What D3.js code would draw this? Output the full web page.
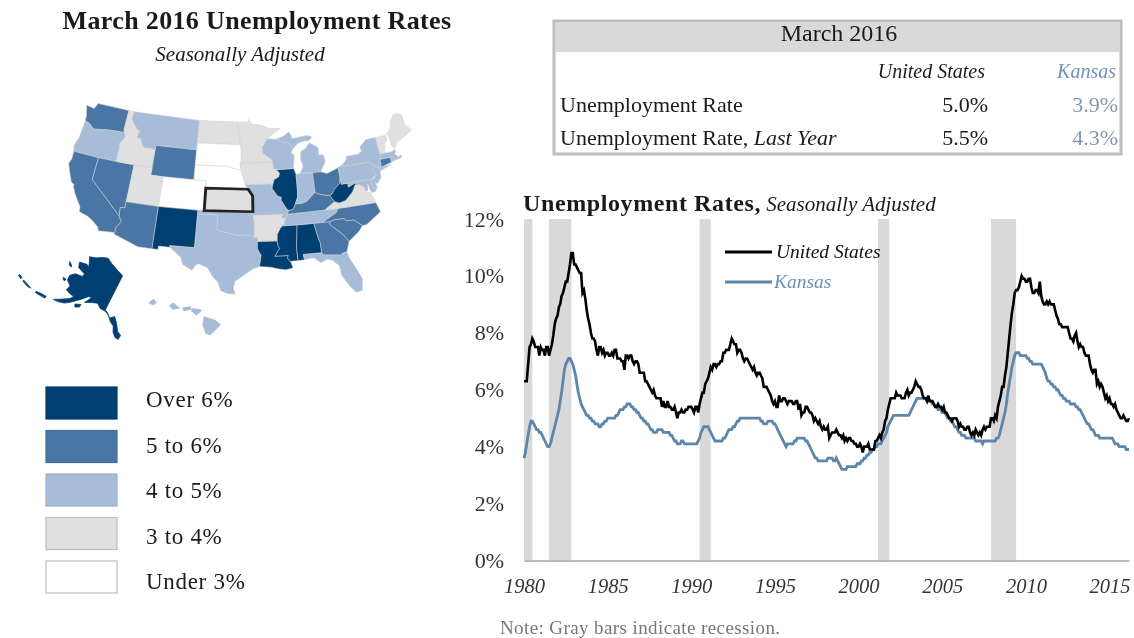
<!DOCTYPE html>
<html>
<head>
<meta charset="utf-8">
<script src="https://cdn.jsdelivr.net/npm/d3@7"></script>
<style>
  html, body { margin: 0; padding: 0; background: #fff; }
  svg { display: block; filter: blur(0.45px); }
  text { font-family: "Liberation Serif", serif; fill: #1a1a1a; }
</style>
</head>
<body>
<script>
// Monthly unemployment rates from Jan 1980 to Mar 2016, one row per year
var usRate = [
    6.3,6.3,6.3,6.9,7.5,7.6,7.8,7.7,7.5,7.5,7.5,7.2,
    7.5,7.4,7.4,7.2,7.5,7.5,7.2,7.4,7.6,7.9,8.3,8.5,
    8.6,8.9,9.0,9.3,9.4,9.6,9.8,9.8,10.1,10.4,10.8,10.8,
    10.4,10.4,10.3,10.2,10.1,10.1,9.4,9.5,9.2,8.8,8.5,8.3,
    8.0,7.8,7.8,7.7,7.4,7.2,7.5,7.5,7.3,7.4,7.2,7.3,
    7.3,7.2,7.2,7.3,7.2,7.4,7.4,7.1,7.1,7.1,7.0,7.0,
    6.7,7.2,7.2,7.1,7.2,7.2,7.0,6.9,7.0,7.0,6.9,6.6,
    6.6,6.6,6.6,6.3,6.3,6.2,6.1,6.0,5.9,6.0,5.8,5.7,
    5.7,5.7,5.7,5.4,5.6,5.4,5.4,5.6,5.4,5.4,5.3,5.3,
    5.4,5.2,5.0,5.2,5.2,5.3,5.2,5.2,5.3,5.3,5.4,5.4,
    5.4,5.3,5.2,5.4,5.4,5.2,5.5,5.7,5.9,5.9,6.2,6.3,
    6.4,6.6,6.8,6.7,6.9,6.9,6.8,6.9,6.9,7.0,7.0,7.3,
    7.3,7.4,7.4,7.4,7.6,7.8,7.7,7.6,7.6,7.3,7.4,7.4,
    7.3,7.1,7.0,7.1,7.1,7.0,6.9,6.8,6.7,6.8,6.6,6.5,
    6.6,6.6,6.5,6.4,6.1,6.1,6.1,6.0,5.9,5.8,5.6,5.5,
    5.6,5.4,5.4,5.8,5.6,5.6,5.7,5.7,5.6,5.5,5.6,5.6,
    5.6,5.5,5.5,5.6,5.6,5.3,5.5,5.1,5.2,5.2,5.4,5.4,
    5.3,5.2,5.2,5.1,4.9,5.0,4.9,4.8,4.9,4.7,4.6,4.7,
    4.6,4.6,4.7,4.3,4.4,4.5,4.5,4.5,4.6,4.5,4.4,4.4,
    4.3,4.4,4.2,4.3,4.2,4.3,4.3,4.2,4.2,4.1,4.1,4.0,
    4.0,4.1,4.0,3.8,4.0,4.0,4.0,4.1,3.9,3.9,3.9,3.9,
    4.2,4.2,4.3,4.4,4.3,4.5,4.6,4.9,5.0,5.3,5.5,5.7,
    5.7,5.7,5.7,5.9,5.8,5.8,5.8,5.7,5.7,5.7,5.9,6.0,
    5.8,5.9,5.9,6.0,6.1,6.3,6.2,6.1,6.1,6.0,5.8,5.7,
    5.7,5.6,5.8,5.6,5.6,5.6,5.5,5.4,5.4,5.5,5.4,5.4,
    5.3,5.4,5.2,5.2,5.1,5.0,5.0,4.9,5.0,5.0,5.0,4.9,
    4.7,4.8,4.7,4.7,4.6,4.6,4.7,4.7,4.5,4.4,4.5,4.4,
    4.6,4.5,4.4,4.5,4.4,4.6,4.7,4.6,4.7,4.7,4.7,5.0,
    5.0,4.9,5.1,5.0,5.4,5.6,5.8,6.1,6.1,6.5,6.8,7.3,
    7.8,8.3,8.7,9.0,9.4,9.5,9.5,9.6,9.8,10.0,9.9,9.9,
    9.8,9.8,9.9,9.9,9.6,9.4,9.4,9.5,9.5,9.4,9.8,9.3,
    9.1,9.0,9.0,9.1,9.0,9.1,9.0,9.0,9.0,8.8,8.6,8.5,
    8.3,8.3,8.2,8.2,8.2,8.2,8.2,8.0,7.8,7.8,7.7,7.9,
    8.0,7.7,7.5,7.6,7.5,7.5,7.3,7.2,7.2,7.2,6.9,6.7,
    6.6,6.7,6.7,6.2,6.3,6.1,6.2,6.1,5.9,5.7,5.8,5.6,
    5.7,5.5,5.5,5.4,5.5,5.3,5.2,5.1,5.0,5.0,5.1,5.0,
    4.9,4.9,5.0
];

var kansasRate = [
    3.6,3.8,4.1,4.4,4.7,4.9,4.9,4.8,4.7,4.6,4.6,4.5,
    4.5,4.4,4.3,4.2,4.1,4.0,4.0,4.1,4.3,4.5,4.7,4.9,
    5.1,5.3,5.6,5.9,6.3,6.7,6.9,7.0,7.1,7.1,7.0,6.9,
    6.7,6.5,6.2,5.9,5.7,5.5,5.4,5.3,5.2,5.1,5.1,5.0,
    5.0,4.9,4.9,4.8,4.8,4.8,4.7,4.7,4.8,4.8,4.9,4.9,
    5.0,5.0,5.0,5.0,5.0,5.0,5.1,5.1,5.2,5.3,5.3,5.3,
    5.4,5.4,5.5,5.5,5.5,5.4,5.4,5.3,5.3,5.2,5.2,5.1,
    5.0,5.0,4.9,4.9,4.8,4.8,4.7,4.6,4.6,4.5,4.5,4.5,
    4.6,4.6,4.6,4.6,4.5,4.5,4.5,4.5,4.5,4.4,4.4,4.3,
    4.2,4.2,4.1,4.1,4.1,4.2,4.2,4.1,4.1,4.1,4.1,4.1,
    4.1,4.1,4.1,4.1,4.1,4.2,4.3,4.5,4.6,4.7,4.7,4.7,
    4.7,4.6,4.5,4.4,4.3,4.2,4.2,4.2,4.2,4.2,4.2,4.3,
    4.3,4.4,4.5,4.6,4.6,4.6,4.7,4.7,4.8,4.9,4.9,5.0,
    5.0,5.0,5.0,5.0,5.0,5.0,5.0,5.0,5.0,5.0,5.0,5.0,
    5.0,5.0,4.9,4.9,4.8,4.8,4.8,4.9,4.9,4.9,4.9,4.8,
    4.8,4.7,4.6,4.5,4.4,4.3,4.2,4.1,4.0,4.1,4.1,4.1,
    4.1,4.1,4.2,4.2,4.3,4.3,4.3,4.3,4.3,4.3,4.2,4.2,
    4.1,4.0,3.9,3.8,3.7,3.6,3.6,3.5,3.5,3.5,3.5,3.5,
    3.5,3.5,3.6,3.6,3.6,3.6,3.5,3.5,3.6,3.5,3.4,3.3,
    3.2,3.2,3.2,3.2,3.3,3.3,3.3,3.3,3.3,3.3,3.3,3.4,
    3.4,3.4,3.5,3.5,3.6,3.6,3.7,3.7,3.8,3.8,3.9,3.9,
    4.0,4.0,4.1,4.1,4.1,4.2,4.3,4.4,4.5,4.7,4.8,4.9,
    5.0,5.1,5.1,5.1,5.1,5.1,5.1,5.1,5.1,5.1,5.1,5.1,
    5.1,5.2,5.3,5.4,5.5,5.6,5.7,5.7,5.7,5.7,5.7,5.7,
    5.7,5.7,5.7,5.6,5.6,5.5,5.5,5.4,5.4,5.3,5.3,5.3,
    5.2,5.2,5.2,5.1,5.0,5.0,4.9,4.9,4.8,4.7,4.7,4.6,
    4.5,4.5,4.4,4.4,4.4,4.3,4.3,4.3,4.3,4.3,4.3,4.3,
    4.2,4.2,4.2,4.2,4.2,4.1,4.2,4.2,4.2,4.2,4.2,4.2,
    4.2,4.2,4.2,4.3,4.3,4.4,4.6,4.8,5.0,5.2,5.5,5.9,
    6.2,6.5,6.8,7.0,7.2,7.3,7.3,7.3,7.2,7.2,7.2,7.2,
    7.2,7.1,7.1,7.0,7.0,6.9,6.9,6.9,6.9,6.9,6.9,6.9,
    6.8,6.7,6.6,6.4,6.3,6.3,6.2,6.2,6.1,6.1,6.0,6.0,
    5.9,5.8,5.8,5.7,5.7,5.6,5.6,5.6,5.5,5.5,5.5,5.5,
    5.4,5.4,5.3,5.3,5.2,5.1,5.0,4.9,4.8,4.8,4.7,4.6,
    4.6,4.5,4.4,4.4,4.4,4.3,4.3,4.3,4.3,4.3,4.3,4.3,
    4.3,4.3,4.3,4.2,4.1,4.1,4.1,4.0,4.0,4.0,4.0,4.0,
    3.9,3.9,3.9
];

// Recessions as [start year, start month, end year, end month]
var recessions = [
    [1980, 0, 1980, 6],
    [1981, 6, 1982, 10],
    [1990, 6, 1991, 2],
    [2001, 2, 2001, 10],
    [2007, 11, 2009, 5]
];
var yTicks = [0, 2, 4, 6, 8, 10, 12];
var xTickYears = [1980, 1985, 1990, 1995, 2000, 2005, 2010, 2015];

// Chart legend, with the rate level each key sits at
var legendSeries = ["United States", "Kansas"];
var legendLevel = [10.84, 9.79];

// Table at the top right
var tableTitle = "March 2016";
var tableColumns = ["United States", "Kansas"];
var tableRows = ["Unemployment Rate", "Unemployment Rate,"];
var tableUs = ["5.0%", "5.5%"];
var tableKansas = ["3.9%", "4.3%"];

// Map legend, darkest first
var legendLabels = ["Over 6%", "5 to 6%", "4 to 5%", "3 to 4%", "Under 3%"];
var legendColors = ["#003f72", "#4a76a5", "#a7bcd9", "#e0e0e0", "#ffffff"];

// Which legend class each state falls in
var stateClasses = [
    ["AK", "NM", "IL", "WV", "LA", "MS", "AL"],
    ["WA", "WY", "CA", "NV", "AZ", "OH", "KY", "GA", "SC", "NC", "CT"],
    ["OR", "MT", "WI", "MI", "MIU", "IN", "MO", "OK", "TX", "TN", "FL", "PA", "NY", "HI", "MA", "RI", "NJ", "MD", "DE"],
    ["ID", "UT", "ND", "MN", "IA", "KS", "AR", "VA", "ME", "VT"],
    ["SD", "NE", "CO", "NH"]
];

// Simplified state outlines in lon/lat
var lower48 = {
    WA: [[-124.7,48.4],[-123.2,48.2],[-122.8,49],[-117.03,49],[-117.04,46.4],[-116.92,45.99],[-119,45.93],[-119.6,45.9],[-121.2,45.65],[-122.3,45.55],[-122.8,45.9],[-123.4,46.2],[-124,46.27],[-124.1,47]],
    OR: [[-124,46.27],[-123.4,46.2],[-122.8,45.9],[-122.3,45.55],[-121.2,45.65],[-119.6,45.9],[-119,45.93],[-116.92,45.99],[-116.5,45.5],[-117.2,44.4],[-117.03,43.8],[-117.03,42],[-120,42],[-124.2,42],[-124.5,42.8],[-124.1,44]],
    CA: [[-124.2,42],[-120,42],[-120,39],[-114.63,35],[-114.13,34.3],[-114.72,33.4],[-114.72,32.72],[-117.12,32.53],[-117.3,33],[-118.4,33.75],[-119.2,34.15],[-120.5,34.45],[-120.65,35.15],[-121.9,36.6],[-122.5,37.5],[-122.5,37.8],[-123,38],[-123.8,39.3],[-124.35,40.3],[-124.1,41]],
    NV: [[-120,42],[-117.03,42],[-114.04,42],[-114.04,37],[-114.04,36.2],[-114.73,36.1],[-114.63,35],[-120,39]],
    ID: [[-117.03,49],[-116.05,49],[-116.05,48],[-115.7,47.5],[-114.7,46.7],[-114.35,46.65],[-114.5,45.6],[-113.9,45.6],[-113.45,44.95],[-113,44.45],[-112,44.55],[-111.05,44.47],[-111.05,42],[-114.04,42],[-117.03,42],[-117.03,43.8],[-117.2,44.4],[-116.5,45.5],[-116.92,45.99],[-117.04,46.4]],
    MT: [[-116.05,49],[-104.05,49],[-104.05,45.94],[-104.05,45],[-111.05,45],[-111.05,44.47],[-112,44.55],[-113,44.45],[-113.45,44.95],[-113.9,45.6],[-114.5,45.6],[-114.35,46.65],[-114.7,46.7],[-115.7,47.5],[-116.05,48]],
    WY: [[-111.05,45],[-104.05,45],[-104.05,43],[-104.05,41],[-109.05,41],[-111.05,41],[-111.05,42],[-111.05,44.47]],
    UT: [[-114.04,42],[-111.05,42],[-111.05,41],[-109.05,41],[-109.05,37],[-114.04,37]],
    CO: [[-109.05,41],[-104.05,41],[-102.05,41],[-102.05,40],[-102.05,37],[-103,37],[-109.05,37]],
    AZ: [[-114.04,37],[-109.05,37],[-109.05,31.33],[-111.07,31.33],[-114.81,32.5],[-114.72,32.72],[-114.72,33.4],[-114.13,34.3],[-114.63,35],[-114.73,36.1],[-114.04,36.2]],
    NM: [[-109.05,37],[-103,37],[-103,36.5],[-103.05,32],[-106.62,32],[-106.53,31.78],[-108.2,31.78],[-108.2,31.33],[-109.05,31.33]],
    ND: [[-104.05,49],[-97.23,49],[-96.56,45.94],[-104.05,45.94]],
    SD: [[-104.05,45.94],[-96.56,45.94],[-96.45,45.3],[-96.45,43.5],[-96.6,43.5],[-96.45,42.5],[-97.9,42.8],[-98.5,43],[-104.05,43]],
    NE: [[-104.05,43],[-98.5,43],[-97.9,42.8],[-96.45,42.5],[-96.1,41.7],[-95.9,41],[-95.31,40],[-102.05,40],[-102.05,41],[-104.05,41]],
    KS: [[-102.05,40],[-95.31,40],[-94.62,39.1],[-94.62,37],[-102.05,37]],
    OK: [[-103,37],[-94.62,37],[-94.43,35.4],[-94.48,33.64],[-95.5,33.9],[-97,33.85],[-98,34.1],[-99.2,34.3],[-100,34.56],[-100,36.5],[-103,36.5]],
    TX: [[-103,36.5],[-100,36.5],[-100,34.56],[-99.2,34.3],[-98,34.1],[-97,33.85],[-95.5,33.9],[-94.48,33.64],[-94.04,33.55],[-94.04,33],[-94.04,32],[-93.55,31.2],[-93.7,30.3],[-93.85,29.7],[-94.7,29.4],[-95.9,28.6],[-97.2,27.7],[-97.4,26.8],[-97.15,25.97],[-98.2,26.05],[-99.1,26.4],[-99.5,27.5],[-100.3,28.3],[-101,29.4],[-102.3,29.88],[-102.7,29.7],[-103.15,28.98],[-104.5,29.65],[-104.9,30.6],[-106.53,31.78],[-106.62,32],[-103.05,32]],
    MN: [[-97.23,49],[-95.15,49],[-95.15,49.38],[-94.6,48.7],[-93,48.6],[-91.4,48.05],[-89.5,48],[-92,46.7],[-92.3,46.1],[-92.85,45.6],[-92.75,44.75],[-91.25,43.85],[-91.22,43.5],[-96.45,43.5],[-96.45,45.3],[-96.56,45.94]],
    IA: [[-96.6,43.5],[-91.22,43.5],[-91.1,42.7],[-90.64,42.5],[-90.15,42],[-90.35,41.5],[-91.1,41.2],[-91.42,40.38],[-91.73,40.61],[-95.77,40.59],[-95.9,41],[-96.1,41.7],[-96.45,42.5]],
    MO: [[-95.77,40.59],[-91.73,40.61],[-91.42,40.38],[-91.5,40],[-90.7,39],[-90.15,38.8],[-90.2,38.4],[-89.5,37.3],[-89.15,37],[-89.4,36.5],[-89.7,36],[-90.37,36],[-90.15,36.5],[-94.62,36.5],[-94.62,37],[-94.62,39.1],[-95.31,40]],
    AR: [[-94.62,36.5],[-90.15,36.5],[-90.37,36],[-89.7,36],[-90.1,35.1],[-90.6,34.7],[-91.1,33.9],[-91.17,33],[-94.04,33],[-94.04,33.55],[-94.48,33.64],[-94.43,35.4]],
    LA: [[-94.04,33],[-91.17,33],[-91.1,32.4],[-90.9,32],[-91.6,31],[-89.73,31],[-89.85,30.65],[-89.55,30.2],[-89.4,30],[-89.2,29.3],[-90.2,29.1],[-91.3,29.3],[-92.3,29.55],[-93.85,29.7],[-93.7,30.3],[-93.55,31.2],[-94.04,32]],
    MS: [[-90.3,35],[-88.2,35],[-88.1,34.9],[-88.47,31.9],[-88.4,30.25],[-89.55,30.2],[-89.85,30.65],[-89.73,31],[-91.6,31],[-90.9,32],[-91.1,32.4],[-91.17,33],[-91.1,33.9],[-90.6,34.7]],
    AL: [[-88.2,35],[-85.6,35],[-85.18,32.87],[-85,32.3],[-85,31],[-87.6,31],[-87.5,30.3],[-88,30.25],[-88.4,30.25],[-88.47,31.9],[-88.1,34.9]],
    TN: [[-89.4,36.5],[-83.68,36.6],[-81.68,36.59],[-82,36.1],[-84.3,35],[-85.6,35],[-88.2,35],[-90.3,35],[-90.1,35.1],[-89.7,36]],
    KY: [[-89.4,36.5],[-89.15,37],[-88.5,37.1],[-88.05,37.8],[-87.1,37.8],[-86.3,38],[-85.4,38.7],[-84.8,39.1],[-84.2,38.8],[-83.7,38.65],[-82.6,38.45],[-82,37.55],[-83.68,36.6]],
    IL: [[-90.64,42.5],[-87.8,42.5],[-87.5,41.7],[-87.53,39.35],[-87.6,38.7],[-88.05,37.8],[-88.5,37.1],[-89.15,37],[-89.5,37.3],[-90.2,38.4],[-90.15,38.8],[-90.7,39],[-91.5,40],[-91.42,40.38],[-91.1,41.2],[-90.35,41.5],[-90.15,42]],
    IN: [[-87.5,41.7],[-86.8,41.76],[-84.8,41.76],[-84.8,39.1],[-85.4,38.7],[-86.3,38],[-87.1,37.8],[-88.05,37.8],[-87.6,38.7],[-87.53,39.35]],
    OH: [[-84.8,41.76],[-83.45,41.72],[-82.5,41.4],[-81.2,41.75],[-80.52,41.98],[-80.52,40.64],[-80.7,39.9],[-81.7,39.2],[-82.2,38.6],[-82.6,38.45],[-83.7,38.65],[-84.2,38.8],[-84.8,39.1]],
    MI: [[-86.8,41.76],[-84.8,41.76],[-83.45,41.72],[-83.1,42.2],[-82.45,43],[-82.6,43.9],[-83.4,44],[-83.3,45],[-84.7,45.75],[-85.5,45],[-86.3,44.7],[-86.5,43.7],[-86.2,42.7]],
    MIU: [[-90.4,46.55],[-89,46.95],[-88,47.45],[-87.5,46.5],[-85,46.75],[-84.1,46.5],[-84.7,46],[-85.5,46.05],[-86.7,45.8],[-87.6,45.1],[-88.1,45.9],[-89,46.1]],
    WI: [[-92.3,46.1],[-92,46.7],[-90.4,46.55],[-89,46.1],[-88.1,45.9],[-87.6,45.1],[-88,44.55],[-87.5,44.3],[-87.8,42.5],[-90.64,42.5],[-91.1,42.7],[-91.22,43.5],[-91.25,43.85],[-92.75,44.75],[-92.85,45.6]],
    GA: [[-85.6,35],[-84.3,35],[-83.1,35],[-83.35,34.7],[-81.5,33],[-80.9,32.05],[-81.45,30.72],[-82.2,30.57],[-82.05,30.36],[-84.86,30.7],[-85,31],[-85,32.3],[-85.18,32.87]],
    FL: [[-87.5,30.3],[-87.6,31],[-85,31],[-84.86,30.7],[-82.05,30.36],[-82.2,30.57],[-81.45,30.72],[-81.2,29.7],[-80.5,28.2],[-80,26.8],[-80.3,25.3],[-81.1,25.15],[-81.8,26],[-82.7,27.7],[-82.8,29],[-83.7,29.9],[-84.3,30.05],[-85.3,29.7],[-86.2,30.45]],
    SC: [[-83.35,34.7],[-83.1,35],[-82.4,35.2],[-81,35.15],[-80.8,34.82],[-79.67,34.8],[-78.55,33.86],[-79.2,33.2],[-80.9,32.05],[-81.5,33]],
    NC: [[-84.3,35],[-82,36.1],[-81.68,36.59],[-75.85,36.55],[-75.5,35.25],[-76.5,34.7],[-77.9,33.9],[-78.55,33.86],[-79.67,34.8],[-80.8,34.82],[-81,35.15],[-82.4,35.2],[-83.1,35]],
    VA: [[-83.68,36.6],[-81.68,36.59],[-75.85,36.55],[-76,37],[-76.3,37.9],[-77,38.3],[-77.05,38.8],[-77.5,39.1],[-77.75,39.3],[-78.35,39.4],[-79,38.5],[-80.3,37.5],[-81.3,37.3],[-82,37.55]],
    WV: [[-82.6,38.45],[-82.2,38.6],[-81.7,39.2],[-80.7,39.9],[-80.52,40.64],[-80.52,39.72],[-79.48,39.72],[-79.48,39.2],[-78.35,39.6],[-77.75,39.3],[-78.35,39.4],[-79,38.5],[-80.3,37.5],[-81.3,37.3],[-82,37.55]],
    PA: [[-80.52,41.98],[-79.76,42.27],[-79.76,42],[-75.35,42],[-74.7,41.36],[-75.1,40.9],[-74.75,40.2],[-75.4,39.8],[-75.8,39.72],[-79.48,39.72],[-80.52,39.72],[-80.52,40.64]],
    NY: [[-79.76,42.27],[-78.9,42.9],[-79,43.27],[-76.8,43.3],[-76.2,43.6],[-76.3,44.2],[-75,45],[-73.35,45],[-73.3,43.6],[-73.27,42.75],[-73.5,42.05],[-73.65,41],[-72,41.05],[-73.9,40.55],[-74,41],[-74.7,41.36],[-75.35,42],[-79.76,42]],
    NJ: [[-74.7,41.36],[-74,41],[-74,40.4],[-74.1,39.7],[-74.9,38.95],[-75.5,39.5],[-74.75,40.2],[-75.1,40.9]],
    DE: [[-75.8,39.72],[-75.4,39.8],[-75.05,38.45],[-75.7,38.46]],
    MD: [[-79.48,39.72],[-75.8,39.72],[-75.7,38.46],[-75.05,38.45],[-75.6,37.95],[-76.2,38],[-76.4,39.2],[-76.6,38.3],[-77,38.3],[-77.05,38.8],[-77.5,39.1],[-77.75,39.3],[-78.35,39.6],[-79.48,39.2]],
    CT: [[-73.5,42.05],[-71.8,42.02],[-71.85,41.32],[-73.65,41]],
    RI: [[-71.8,42.02],[-71.38,42.02],[-71.2,41.5],[-71.85,41.32]],
    MA: [[-73.5,42.05],[-73.27,42.75],[-72.46,42.73],[-71.3,42.7],[-70.8,42.87],[-70.6,42.65],[-71,42.3],[-70.5,41.8],[-70,42.05],[-70,41.65],[-71.2,41.5],[-71.38,42.02],[-71.8,42.02]],
    VT: [[-73.35,45],[-71.5,45],[-71.5,44.4],[-72.05,44],[-72.45,43],[-72.46,42.73],[-73.27,42.75],[-73.3,43.6]],
    NH: [[-71.5,45],[-71.08,45.3],[-70.98,43.4],[-70.7,43.05],[-70.8,42.87],[-71.3,42.7],[-72.46,42.73],[-72.45,43],[-72.05,44],[-71.5,44.4]],
    ME: [[-71.08,45.3],[-70.4,45.8],[-70.25,46.2],[-70,46.7],[-69.2,47.45],[-68.3,47.35],[-67.8,47.07],[-67.8,45.7],[-67,44.85],[-68.5,44.25],[-70,43.75],[-70.7,43.05],[-70.98,43.4]]
};

var alaskaParts = [
    [[-141,69.65],[-141,60.3],[-139.5,59.9],[-137.5,58.9],[-135.5,59.75],[-133.5,58.4],[-131.8,56.6],[-130,55.9],[-130.5,54.8],[-132,55],[-133.5,56],[-134.5,57.5],[-136.5,58.2],[-138.5,59.5],[-141,60],[-143.5,60],[-146,60.8],[-148.5,60.2],[-151.5,59.2],[-150,61.1],[-151.5,61],[-153.5,59.5],[-156.5,57.3],[-158.5,56],[-161,55.2],[-163,54.8],[-161,56],[-158,57.7],[-157.3,58.8],[-159,58.6],[-162,58.7],[-162,60],[-165,60.5],[-166,61.7],[-164.5,63],[-161,63.7],[-161,64.5],[-166,64.6],[-168,65.6],[-164,66.6],[-162,66.3],[-163.5,67.2],[-166.5,68.3],[-163,69.3],[-160,70.5],[-156.5,71.3],[-152,70.8],[-146,70.2]],
    [[-154.6,57.5],[-152.3,58.3],[-152.2,57.6],[-153.8,56.9]],
    [[-167.4,60.2],[-166,60.4],[-165.6,59.9],[-166.5,59.8]],
    [[-171.7,63.8],[-170,63.7],[-168.8,63.3],[-170.3,63.2]],
    [[-170.2,52.9],[-168,53.6],[-166,54],[-165.8,53.5],[-168,53],[-170,52.6]],
    [[-176.8,52],[-174,52.3],[-172.5,52.3],[-174,51.9],[-176.5,51.7]],
    [[-179.5,51.9],[-178,52],[-177.8,51.6],[-179.2,51.5]]
];

var hawaiiParts = [
    [[-156.06,19.73],[-155.85,20.27],[-155.1,19.9],[-154.8,19.5],[-155.65,18.95],[-155.95,19.1]],
    [[-156.7,20.9],[-156.6,21.03],[-156.25,20.93],[-156,20.8],[-156.4,20.57]],
    [[-157.3,21.22],[-156.75,21.2],[-156.75,21.05],[-157.3,21.05]],
    [[-158.28,21.57],[-158,21.7],[-157.65,21.3],[-158.1,21.3]],
    [[-159.78,22.05],[-159.45,22.23],[-159.3,22],[-159.55,21.88]]
];

// d3.geoPath fills the outside of a polygon wound the wrong way round, so fix that here
function toFeature(rings) {
    var polygons = rings.map(function (ring) {
        var closed = ring.concat([ring[0]]);
        var poly = { type: "Polygon", coordinates: [closed] };
        if (d3.geoArea(poly) > 2 * Math.PI) {
            poly.coordinates = [closed.slice().reverse()];
        }
        return poly.coordinates;
    });
    return { type: "MultiPolygon", coordinates: polygons };
}

function classColor(code) {
    for (var i = 0; i < stateClasses.length; i++) {
        if (stateClasses[i].indexOf(code) >= 0) return legendColors[i];
    }
    return "#ffffff";
}

var svg = d3.select("body").append("svg")
    .attr("width", 1134)
    .attr("height", 638);

// ---------- left side: title, map, legend ----------
svg.append("text")
    .attr("x", 257).attr("y", 29)
    .attr("text-anchor", "middle")
    .attr("font-size", 26)
    .attr("letter-spacing", 0.35)
    .attr("font-weight", "bold")
    .text("March 2016 Unemployment Rates");

svg.append("text")
    .attr("x", 240).attr("y", 61)
    .attr("text-anchor", "middle")
    .attr("font-size", 21)
    .attr("font-style", "italic")
    .text("Seasonally Adjusted");

// The reference map is a little wider than a plain Albers, hence the x stretch on the group
var conusProjection = d3.geoAlbers().scale(427).translate([0, 0]);
var conusPath = d3.geoPath().projection(conusProjection);
// Alaska and Hawaii are turned as insets in the reference, .angle handles that
var alaskaPath = d3.geoPath().projection(
    d3.geoConicEqualArea().rotate([154, 0]).center([0, 63]).parallels([55, 65])
        .angle(-38).scale(235).translate([90, 287])
);
var hawaiiPath = d3.geoPath().projection(
    d3.geoConicEqualArea().rotate([157, 0]).center([0, 20.5]).parallels([8, 18])
        .angle(11).scale(790).translate([189, 317])
);

var mapStroke = "#cfcfcf";
var conus = svg.append("g")
    .attr("transform", "translate(240,199) scale(1.113,1)");

conus.selectAll("path.state")
    .data(Object.keys(lower48))
    .enter()
    .append("path")
    .attr("class", "state")
    .attr("d", function (d) { return conusPath(toFeature([lower48[d]])); })
    .attr("fill", function (d) { return classColor(d); })
    .attr("stroke", mapStroke)
    .attr("stroke-width", 0.5);

// Kansas goes on top with its heavy outline
conus.append("path")
    .attr("d", conusPath(toFeature([lower48.KS])))
    .attr("fill", classColor("KS"))
    .attr("stroke", "#222222")
    .attr("stroke-width", 2.6);

svg.append("path")
    .attr("d", alaskaPath(toFeature(alaskaParts)))
    .attr("fill", classColor("AK"))
    .attr("stroke", classColor("AK"))
    .attr("stroke-width", 0.8);

svg.append("path")
    .attr("d", hawaiiPath(toFeature(hawaiiParts)))
    .attr("fill", classColor("HI"))
    .attr("stroke", classColor("HI"))
    .attr("stroke-width", 1.4);

var legendY = d3.scalePoint().domain(legendLabels).range([387, 561]);
var legendTextY = d3.scalePoint().domain(legendLabels).range([407, 589]);

svg.selectAll("rect.legend")
    .data(legendLabels)
    .enter()
    .append("rect")
    .attr("class", "legend")
    .attr("x", 46)
    .attr("y", function (d) { return legendY(d); })
    .attr("width", 71).attr("height", 32)
    .attr("fill", function (d, i) { return legendColors[i]; })
    .attr("stroke", function (d, i) { return i > 2 ? "#bdbdbd" : d3.color(legendColors[i]).darker(0.2); })
    .attr("stroke-width", 1.2);

svg.selectAll("text.legend")
    .data(legendLabels)
    .enter()
    .append("text")
    .attr("class", "legend")
    .attr("x", 146)
    .attr("y", function (d) { return legendTextY(d); })
    .attr("font-size", 23)
    .attr("letter-spacing", 0.7)
    .text(function (d) { return d; });

// ---------- top right: table ----------
var table = svg.append("g");

table.append("rect")
    .attr("x", 554).attr("y", 21)
    .attr("width", 567).attr("height", 133)
    .attr("fill", "#ffffff")
    .attr("stroke", "#bdbdbd")
    .attr("stroke-width", 3);

table.append("rect")
    .attr("x", 555).attr("y", 22)
    .attr("width", 565).attr("height", 30)
    .attr("fill", "#d9d9d9");

table.append("text")
    .attr("x", 839).attr("y", 41)
    .attr("text-anchor", "middle")
    .attr("font-size", 24)
    .text(tableTitle);

var kansasText = "#7592b5";
var columnRight = [985, 1116];
var rowY = [112, 145];

table.selectAll("text.column")
    .data(tableColumns)
    .enter()
    .append("text")
    .attr("class", "column")
    .attr("x", function (d, i) { return columnRight[i]; })
    .attr("y", 78)
    .attr("text-anchor", "end")
    .attr("font-size", 20)
    .attr("font-style", "italic")
    .style("fill", function (d, i) { return i === 1 ? kansasText : "#1a1a1a"; })
    .text(function (d) { return d; });

var rowLabels = table.selectAll("text.row")
    .data(tableRows)
    .enter()
    .append("text")
    .attr("class", "row")
    .attr("x", 560)
    .attr("y", function (d, i) { return rowY[i]; })
    .attr("font-size", 22)
    .text(function (d) { return d; });

// second row carries an italic tail
rowLabels.filter(function (d, i) { return i === 1; })
    .append("tspan")
    .attr("font-style", "italic")
    .text(" Last Year");

tableUs.forEach(function (v, i) {
    table.append("text")
        .attr("x", 988).attr("y", rowY[i])
        .attr("text-anchor", "end")
        .attr("font-size", 22)
        .text(v);
});
tableKansas.forEach(function (v, i) {
    table.append("text")
        .attr("x", 1118).attr("y", rowY[i])
        .attr("text-anchor", "end")
        .attr("font-size", 22)
        .style("fill", "#8097b3")
        .text(v);
});

// ---------- line chart ----------
var months = usRate.map(function (d, i) { return new Date(1980, i, 1); });

var x = d3.scaleTime()
    .domain([months[0], months[months.length - 1]])
    .range([524, 1129]);

var y = d3.scaleLinear()
    .domain([0, 12])
    .range([560.5, 219]);

var chartTitle = svg.append("text")
    .attr("x", 523).attr("y", 211);
chartTitle.append("tspan")
    .attr("font-size", 24)
    .attr("letter-spacing", 0.6)
    .attr("font-weight", "bold")
    .text("Unemployment Rates,");
chartTitle.append("tspan")
    .attr("font-size", 21)
    .attr("font-style", "italic")
    .text(" Seasonally Adjusted");

svg.selectAll("rect.recession")
    .data(recessions)
    .enter()
    .append("rect")
    .attr("class", "recession")
    .attr("x", function (d) { return x(new Date(d[0], d[1], 1)); })
    .attr("width", function (d) { return x(new Date(d[2], d[3], 1)) - x(new Date(d[0], d[1], 1)); })
    .attr("y", y(12))
    .attr("height", y(0) - y(12))
    .attr("fill", "#d9d9d9");

var yAxis = svg.append("g")
    .attr("transform", "translate(508,0)")
    .call(d3.axisLeft(y).tickValues(yTicks).tickSize(0).tickFormat(function (d) { return d + "%"; }));
yAxis.select(".domain").remove();
yAxis.selectAll("text")
    .attr("font-family", "Liberation Serif")
    .attr("font-size", 22)
    .attr("x", -4)
    .style("fill", "#333333");

var xAxis = svg.append("g")
    .attr("transform", "translate(0," + y(0) + ")")
    .call(d3.axisBottom(x)
        .tickValues(xTickYears.map(function (d) { return new Date(d, 0, 1); }))
        .tickSize(0)
        .tickFormat(d3.timeFormat("%Y")));
xAxis.select(".domain")
    .attr("stroke", "#a6a6a6")
    .attr("stroke-width", 1.5);
xAxis.selectAll("text")
    .attr("font-family", "Liberation Serif")
    .attr("font-size", 20.5)
    .attr("font-style", "italic")
    .attr("y", 18)
    .style("fill", "#333333");

var line = d3.line()
    .x(function (d, i) { return x(months[i]); })
    .y(function (d) { return y(d); });

var kansasColor = "#5d86a8";

svg.append("path")
    .datum(kansasRate)
    .attr("d", line)
    .attr("fill", "none")
    .attr("stroke", kansasColor)
    .attr("stroke-width", 2.8);

svg.append("path")
    .datum(usRate)
    .attr("d", line)
    .attr("fill", "none")
    .attr("stroke", "#000000")
    .attr("stroke-width", 2.6);

var legendColor = ["#000000", kansasColor];

legendSeries.forEach(function (name, i) {
    svg.append("line")
        .attr("x1", 725).attr("x2", 772)
        .attr("y1", y(legendLevel[i])).attr("y2", y(legendLevel[i]))
        .attr("stroke", legendColor[i])
        .attr("stroke-width", 3);
    svg.append("text")
        .attr("x", i === 0 ? 776 : 774)
        .attr("y", y(legendLevel[i]) + 6)
        .attr("font-size", 19.5)
        .attr("font-style", "italic")
        .style("fill", i === 0 ? "#111111" : "#6d90b3")
        .text(name);
});

svg.append("text")
    .attr("x", 500).attr("y", 634)
    .attr("font-size", 19)
    .attr("letter-spacing", 0.4)
    .style("fill", "#777777")
    .text("Note: Gray bars indicate recession.");
</script>
</body>
</html>
